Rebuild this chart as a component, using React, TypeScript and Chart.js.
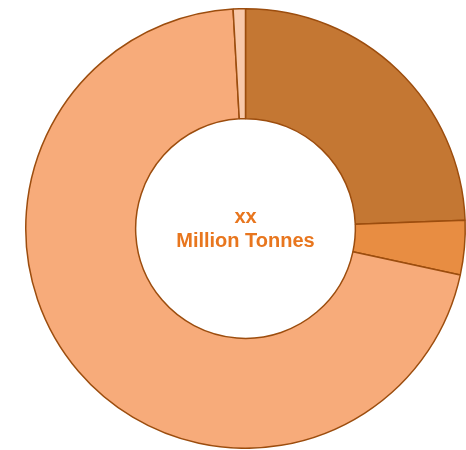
import React, { useEffect, useRef } from "react";
import { Chart, registerables } from "chart.js";

Chart.register(...registerables);

const categories = ["Segment A", "Segment B", "Segment C", "Segment D"];
const shares = [24.4, 4.0, 70.7, 0.9];
const sliceColors = ["#C47733", "#E88D42", "#F7AB7A", "#F8C8A9"];
const centerLines = ["xx", "Million Tonnes"];

export default function App() {
  const canvasRef = useRef<HTMLCanvasElement | null>(null);

  useEffect(() => {
    const canvas = canvasRef.current;
    if (!canvas) return;
    const chart = new Chart(canvas, {
      type: "doughnut",
      data: {
        labels: categories,
        datasets: [
          {
            data: shares,
            backgroundColor: sliceColors,
            borderColor: "#9C4D0E",
            borderWidth: 1.5,
            hoverOffset: 0,
          },
        ],
      },
      options: {
        responsive: false,
        animation: false,
        cutout: "50%",
        events: [],
        layout: { padding: 0 },
        plugins: {
          legend: { display: false },
          tooltip: { enabled: false },
          title: { display: false },
        },
      },
    });
    return () => chart.destroy();
  }, []);

  return (
    <div
      style={{
        position: "fixed",
        left: 0,
        top: 0,
        width: 466,
        height: 450,
        overflow: "hidden",
        background: "#ffffff",
      }}
    >
      <canvas
        ref={canvasRef}
        width={475}
        height={441}
        style={{ position: "absolute", left: 8, top: 8, width: 475, height: 441 }}
      />
      <div
        style={{
          position: "absolute",
          left: 145.5,
          top: 204,
          width: 200,
          textAlign: "center",
          fontFamily: '"Liberation Sans", Arial, sans-serif',
          fontWeight: "bold",
          fontSize: 20,
          lineHeight: "24px",
          color: "#E8761E",
        }}
      >
        {centerLines.map((t) => (
          <div key={t}>{t}</div>
        ))}
      </div>
    </div>
  );
}
